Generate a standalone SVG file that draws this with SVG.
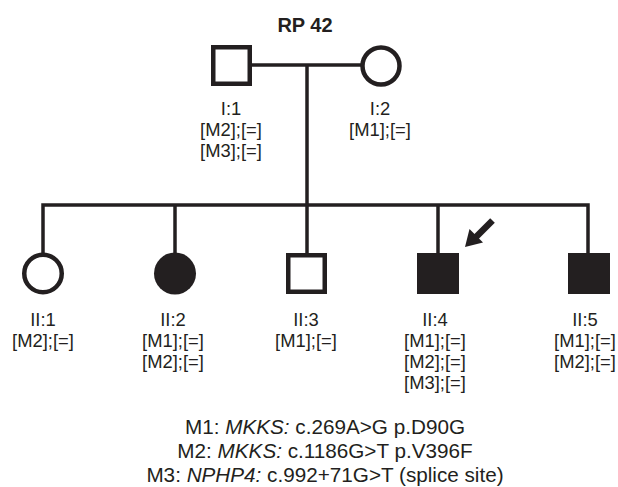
<svg xmlns="http://www.w3.org/2000/svg" width="618" height="487" viewBox="0 0 618 487">
<style>
.ln{fill:none;stroke:#231f20;stroke-width:3.5;stroke-linejoin:miter;stroke-linecap:butt}
.open{fill:#fff;stroke:#231f20;stroke-width:4.5}
.aff{fill:#231f20;stroke:none}
text{font-family:"Liberation Sans",Arial,Helvetica,sans-serif;fill:#231f20;text-anchor:middle}
.lb{font-size:18.4px}
.lg{font-size:20.7px}
.tt{font-size:20px;font-weight:bold}
</style>
<rect width="618" height="487" fill="#fff"/>
<text class="tt" x="305" y="32">RP 42</text>
<g id="connectors">
<line class="ln" x1="252" y1="65" x2="362" y2="65"/>
<line class="ln" x1="307" y1="65" x2="307" y2="206"/>
<path class="ln" d="M43,254 V205 H588 V254"/>
<line class="ln" x1="175" y1="205" x2="175" y2="254"/>
<line class="ln" x1="307" y1="205" x2="307" y2="254"/>
<line class="ln" x1="438" y1="205" x2="438" y2="254"/>
</g>
<g id="I1">
<rect class="open" x="213.25" y="47.25" width="36.5" height="36.5"/>
<text class="lb" x="231" y="115">I:1</text>
<text class="lb" x="231" y="136">[M2];[=]</text>
<text class="lb" x="231" y="157">[M3];[=]</text>
</g>
<g id="I2">
<circle class="open" cx="381" cy="66" r="18.5"/>
<text class="lb" x="380" y="115">I:2</text>
<text class="lb" x="380" y="136">[M1];[=]</text>
</g>
<g id="II1">
<circle class="open" cx="43" cy="273.5" r="18.75"/>
<text class="lb" x="43" y="326">II:1</text>
<text class="lb" x="43" y="347">[M2];[=]</text>
</g>
<g id="II2">
<circle class="aff" cx="175" cy="273.5" r="21"/>
<text class="lb" x="173" y="326">II:2</text>
<text class="lb" x="173" y="347">[M1];[=]</text>
<text class="lb" x="173" y="368">[M2];[=]</text>
</g>
<g id="II3">
<rect class="open" x="288.25" y="255.25" width="36.5" height="36.5"/>
<text class="lb" x="306" y="326">II:3</text>
<text class="lb" x="306" y="347">[M1];[=]</text>
</g>
<g id="II4">
<rect class="aff" x="417" y="253" width="42" height="41"/>
<text class="lb" x="435" y="326">II:4</text>
<text class="lb" x="435" y="347">[M1];[=]</text>
<text class="lb" x="435" y="368">[M2];[=]</text>
<text class="lb" x="435" y="389">[M3];[=]</text>
</g>
<g id="II5">
<rect class="aff" x="568" y="253" width="42" height="41"/>
<text class="lb" x="585" y="326">II:5</text>
<text class="lb" x="585" y="347">[M1];[=]</text>
<text class="lb" x="585" y="368">[M2];[=]</text>
</g>
<g id="proband-arrow">
<line x1="492.5" y1="220.5" x2="474" y2="239" stroke="#231f20" stroke-width="6.5"/>
<polygon points="465,247 469.5,229 483,242.5" fill="#231f20"/>
</g>
<g id="legend">
<text class="lg" x="325" y="434">M1: <tspan font-style="italic">MKKS:</tspan> c.269A&gt;G p.D90G</text>
<text class="lg" x="325" y="458">M2: <tspan font-style="italic">MKKS:</tspan> c.1186G&gt;T p.V396F</text>
<text class="lg" x="325" y="482">M3: <tspan font-style="italic">NPHP4:</tspan> c.992+71G&gt;T (splice site)</text>
</g>
</svg>
